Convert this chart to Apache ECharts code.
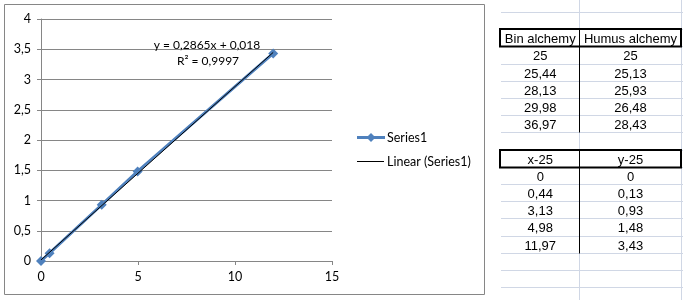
<!DOCTYPE html>
<html><head><meta charset="utf-8">
<script src="https://cdn.jsdelivr.net/npm/echarts@6/dist/echarts.min.js"></script>
<style>html,body{margin:0;padding:0;background:#fff}#c{width:683px;height:300px}</style>
</head><body><div id="c"></div>
<script>
// ---- data ----
var xValues = [0, 0.44, 3.13, 4.98, 11.97];
var yValues = [0, 0.13, 0.93, 1.48, 3.43];
var binAlchemy = [25, 25.44, 28.13, 29.98, 36.97];
var humusAlchemy = [25, 25.13, 25.93, 26.48, 28.43];
var table1Headers = ['Bin alchemy', 'Humus alchemy'];
var table2Headers = ['x-25', 'y-25'];
var seriesNames = ['Series1', 'Linear (Series1)'];
var equationText = 'y = 0,2865x + 0,018';
var r2Text = 'R\u00B2 = 0,9997';

function fmt(v){ return String(v).replace('.', ','); }

// least-squares trendline from the data
var n = xValues.length, sx=0, sy=0, sxx=0, sxy=0;
for (var i=0;i<n;i++){ sx+=xValues[i]; sy+=yValues[i]; sxx+=xValues[i]*xValues[i]; sxy+=xValues[i]*yValues[i]; }
var slope = (n*sxy - sx*sy)/(n*sxx - sx*sx);
var intercept = (sy - slope*sx)/n;
var xMin = Math.min.apply(null, xValues), xMax = Math.max.apply(null, xValues);
var trend = [[xMin, slope*xMin+intercept],[xMax, slope*xMax+intercept]];

var pts = xValues.map(function(x,i){ return [x, yValues[i]]; });

// ---- spreadsheet graphic ----
var rowTop = 12, rowH = 17.2, nRows = 17;
var colL = 501, colM = 579.5, colR = 681.5;
var gridColor = '#d0d7e5';
var g = [];
for (var r=0;r<nRows;r++){
  var y = Math.round(rowTop + r*rowH) + 0.5;
  g.push({type:'line', shape:{x1:colL, y1:y, x2:683, y2:y}, style:{stroke:gridColor, lineWidth:1}, z:1});
}
g.push({type:'line', shape:{x1:colM, y1:0, x2:colM, y2:300}, style:{stroke:gridColor, lineWidth:1}, z:1});
g.push({type:'line', shape:{x1:colR, y1:0, x2:colR, y2:300}, style:{stroke:gridColor, lineWidth:1}, z:1});

function rowY(r){ return Math.round(rowTop + r*rowH) + 0.5; }
function addTable(headerRow, headers, c1, c2){
  var yTop = rowY(headerRow), yBot = rowY(headerRow+1), yEnd = rowY(headerRow+1+c1.length);
  g.push({type:'rect', shape:{x:colL-1, y:yTop-0.5, width:colR-colL+0.5, height:yBot-yTop+0.5}, style:{fill:'none', stroke:'#000', lineWidth:2}, z:3});
  g.push({type:'line', shape:{x1:colM, y1:yTop, x2:colM, y2:yEnd}, style:{stroke:'#000', lineWidth:1}, z:3});
  var cx1 = (colL+colM)/2, cx2 = (colM+colR)/2;
  var ty = (yTop+yBot)/2+1;
  var font = '13px "Liberation Sans", Arial, sans-serif';
  g.push({type:'text', x:cx1, y:ty, style:{text:headers[0], font:font, fill:'#000', align:'center', verticalAlign:'middle'}, z:4});
  g.push({type:'text', x:cx2, y:ty, style:{text:headers[1], font:font, fill:'#000', align:'center', verticalAlign:'middle'}, z:4});
  for (var k=0;k<c1.length;k++){
    var a = rowY(headerRow+1+k), b = rowY(headerRow+2+k);
    var yy = (a+b)/2+1;
    g.push({type:'text', x:cx1, y:yy, style:{text:fmt(c1[k]), font:font, fill:'#000', align:'center', verticalAlign:'middle'}, z:4});
    g.push({type:'text', x:cx2, y:yy, style:{text:fmt(c2[k]), font:font, fill:'#000', align:'center', verticalAlign:'middle'}, z:4});
  }
}
addTable(1, table1Headers, binAlchemy, humusAlchemy);
addTable(8, table2Headers, xValues, yValues);

// chart frame
g.push({type:'rect', shape:{x:4.5, y:4.5, width:480, height:290}, style:{fill:'none', stroke:'#868686', lineWidth:1}, z:0});
// equation
var chartFont = '12px Lato, "Open Sans", sans-serif';
g.push({type:'text', x:207, y:45, style:{text:equationText, font:chartFont, fill:'#000', align:'center', verticalAlign:'middle'}, z:10});
g.push({type:'text', x:208, y:61, style:{text:r2Text, font:chartFont, fill:'#000', align:'center', verticalAlign:'middle'}, z:10});

// legend (drawn manually to match Excel's key)
var legFont = '12.5px Lato, "Open Sans", sans-serif';
g.push({type:'line', shape:{x1:357, y1:137.5, x2:385, y2:137.5}, style:{stroke:'#4f81bd', lineWidth:3}, z:10});
g.push({type:'polygon', shape:{points:[[371,133],[375.5,137.5],[371,142],[366.5,137.5]]}, style:{fill:'#4f81bd'}, z:10});
g.push({type:'text', x:387, y:138, style:{text:seriesNames[0], font:legFont, fill:'#000', align:'left', verticalAlign:'middle'}, z:10});
g.push({type:'line', shape:{x1:357, y1:161.5, x2:384, y2:161.5}, style:{stroke:'#000', lineWidth:1}, z:10});
g.push({type:'text', x:387, y:162, style:{text:seriesNames[1], font:legFont, fill:'#000', align:'left', verticalAlign:'middle'}, z:10});

var chart = echarts.init(document.getElementById('c'), null, {renderer:'canvas'});
chart.setOption({
  animation:false,
  backgroundColor:'#fff',
  textStyle:{fontFamily:'Lato, "Open Sans", sans-serif'},
  grid:{left:41, right:351, top:19, bottom:39, containLabel:false},
  xAxis:{
    type:'value', min:0, max:15, interval:5,
    axisLine:{show:true, lineStyle:{color:'#868686'}},
    axisTick:{show:true, inside:false, length:4, lineStyle:{color:'#868686'}},
    splitLine:{show:false},
    axisLabel:{color:'#000', fontSize:12.5, margin:9, formatter:function(v){return fmt(v);}}
  },
  yAxis:{
    type:'value', min:0, max:4, interval:0.5,
    axisLine:{show:true, lineStyle:{color:'#868686'}},
    axisTick:{show:true, inside:false, length:4, lineStyle:{color:'#868686'}},
    splitLine:{show:true, lineStyle:{color:'#868686'}},
    axisLabel:{color:'#000', fontSize:12.5, margin:10, formatter:function(v){return fmt(v);}}
  },
  series:[
    {name:seriesNames[0], type:'line', data:pts, symbol:'diamond', symbolSize:10, showSymbol:true,
      lineStyle:{color:'#4f81bd', width:3}, itemStyle:{color:'#4f81bd'}, z:2},
    {name:seriesNames[1], type:'line', data:trend, symbol:'none',
      lineStyle:{color:'#000', width:1}, itemStyle:{color:'#000'}, z:3}
  ],
  graphic:g
});
</script></body></html>
